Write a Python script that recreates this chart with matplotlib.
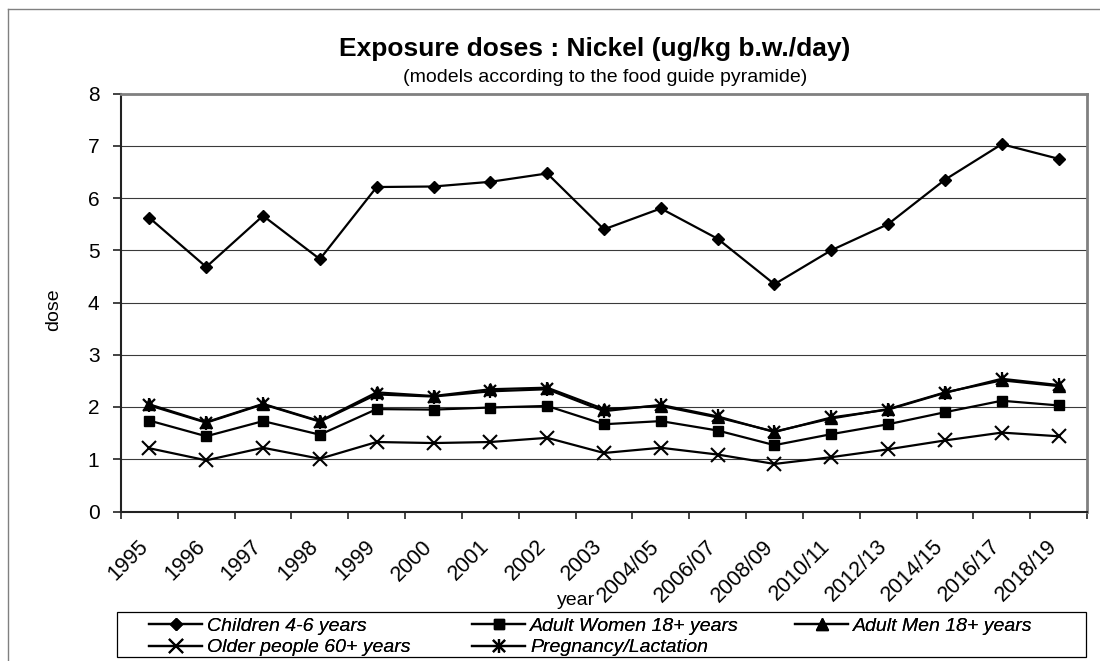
import numpy as np
import matplotlib
matplotlib.use("Agg")
import matplotlib.pyplot as plt
from matplotlib.lines import Line2D
from matplotlib.patches import Rectangle
from matplotlib.legend_handler import HandlerTuple
from matplotlib.transforms import ScaledTranslation

plt.rcParams["font.family"] = ["Liberation Sans", "DejaVu Sans"]

years = ["1995", "1996", "1997", "1998", "1999", "2000", "2001", "2002", "2003",
         "2004/05", "2006/07", "2008/09", "2010/11", "2012/13", "2014/15",
         "2016/17", "2018/19"]

children = [5.62, 4.68, 5.66, 4.83, 6.21, 6.22, 6.31, 6.47, 5.40,
            5.80, 5.22, 4.35, 5.00, 5.50, 6.35, 7.03, 6.75]
women = [1.74, 1.44, 1.73, 1.47, 1.96, 1.95, 1.99, 2.02, 1.67,
         1.73, 1.55, 1.27, 1.48, 1.67, 1.90, 2.12, 2.03]
men = [2.05, 1.71, 2.06, 1.73, 2.28, 2.21, 2.34, 2.37, 1.96,
       2.02, 1.80, 1.53, 1.78, 1.96, 2.28, 2.51, 2.40]
older = [1.21, 0.98, 1.22, 1.01, 1.33, 1.31, 1.33, 1.41, 1.12,
         1.22, 1.09, 0.91, 1.04, 1.19, 1.36, 1.51, 1.44]
pregnancy = [2.03, 1.70, 2.05, 1.72, 2.24, 2.20, 2.30, 2.34, 1.92,
             2.04, 1.82, 1.52, 1.80, 1.95, 2.27, 2.54, 2.42]

labels = ["Children 4-6 years", "Adult Women 18+ years", "Adult Men 18+ years",
          "Older people 60+ years", "Pregnancy/Lactation"]

W, H = 1100, 661
fig = plt.figure(figsize=(W / 100, H / 100), dpi=100)
fig.patch.set_facecolor("white")

left, right, top, bottom = 121, 1087, 93.5, 511.5
ax = fig.add_axes([left / W, (H - bottom) / H, (right - left) / W, (bottom - top) / H])

x = np.arange(len(years))
lw = 1.6
l_child, = ax.plot(x, children, color="black", lw=lw, marker="D", ms=6.5,
                   mfc="black", mec="black", zorder=3)
l_women, = ax.plot(x, women, color="black", lw=lw, marker="s", ms=7.8,
                   mfc="black", mec="black", zorder=3)
l_men, = ax.plot(x, men, color="black", lw=lw, marker="^", ms=9,
                 mfc="black", mec="black", zorder=3)
l_old, = ax.plot(x, older, color="black", lw=lw, marker="x", ms=9.5,
                 mew=1.5, mec="black", zorder=3)
l_preg, = ax.plot(x, pregnancy, color="black", lw=lw, marker="x", ms=8,
                  mew=1.6, mec="black", zorder=4)
l_preg_bar, = ax.plot(x, pregnancy, ls="none", marker="|", ms=10,
                      mew=1.6, mec="black", zorder=4)

ax.set_xlim(-0.5, len(years) - 0.5)
ax.set_ylim(0, 8)
ax.set_yticks(np.arange(0, 9, 1))
ax.yaxis.grid(True, color="#3a3a3a", lw=0.8, zorder=1)
ax.set_axisbelow(True)

# category boundaries carry the tick marks, category centres carry the labels
ax.set_xticks(np.arange(-0.5, len(years), 1.0))
ax.set_xticklabels([])
ax.set_xticks(x, years, minor=True)
ax.tick_params(axis="x", which="major", direction="out", length=5, width=1.2,
               color="#222222")
ax.tick_params(axis="x", which="minor", length=0, pad=23, labelsize=15.5)
shift = ScaledTranslation(-0.045, 0.0, fig.dpi_scale_trans)
for t in ax.get_xticklabels(minor=True):
    t.set_rotation(45)
    t.set_ha("right")
    t.set_va("center")
    t.set_rotation_mode("anchor")
    t.set_transform(t.get_transform() + shift)
ax.tick_params(axis="y", direction="out", length=5.5, width=1.2, color="#222222",
               pad=10, labelsize=15)

for side in ("left", "bottom"):
    ax.spines[side].set_color("#222222")
    ax.spines[side].set_linewidth(1.5)
for side in ("top", "right"):
    ax.spines[side].set_color("#808080")
    ax.spines[side].set_linewidth(2.0)

ax.set_ylabel("dose", fontsize=14)
ax.yaxis.set_label_coords((62 - left) / (right - left), (bottom - 310) / (bottom - top))
ax.set_xlabel("year", fontsize=14)
ax.xaxis.set_label_coords((576 - left) / (right - left), -(592 - bottom) / (bottom - top))

fig.text(595 / W, 1 - 49 / H, "Exposure doses : Nickel (ug/kg b.w./day)",
         ha="center", va="center", fontsize=19, fontweight="bold")
fig.text(605 / W, 1 - 78 / H, "(models according to the food guide pyramide)",
         ha="center", va="center", fontsize=14)

# chart-area border (left and top edges)
fig.add_artist(Line2D([8 / W, 8 / W], [0, 1 - 9 / H], transform=fig.transFigure,
                      color="#808080", lw=1.0))
fig.add_artist(Line2D([8 / W, 1], [1 - 9 / H, 1 - 9 / H], transform=fig.transFigure,
                      color="#808080", lw=1.0))

# legend frame and its three equally spaced columns
fig.add_artist(Rectangle((117 / W, (H - 657.3) / H), (1086 - 117) / W, 45 / H,
                         transform=fig.transFigure, fill=False, edgecolor="black",
                         lw=0.9))
legend_kw = dict(loc="upper left", bbox_transform=fig.transFigure, frameon=False,
                 borderpad=0, borderaxespad=0, handlelength=2.75,
                 handletextpad=0.25, labelspacing=0.22,
                 prop={"style": "italic", "size": 14},
                 handler_map={tuple: HandlerTuple(ndivide=1, pad=0)})
columns = [
    (149, [l_child, l_old], [labels[0], labels[3]]),
    (472, [l_women, (l_preg, l_preg_bar)], [labels[1], labels[4]]),
    (795, [l_men], [labels[2]]),
]
for xpos, hs, ls in columns:
    leg = fig.legend(hs, ls, bbox_to_anchor=(xpos / W, 1 - 617 / H), **legend_kw)
    fig.add_artist(leg)

fig.savefig("out.png", dpi=100, facecolor="white")
